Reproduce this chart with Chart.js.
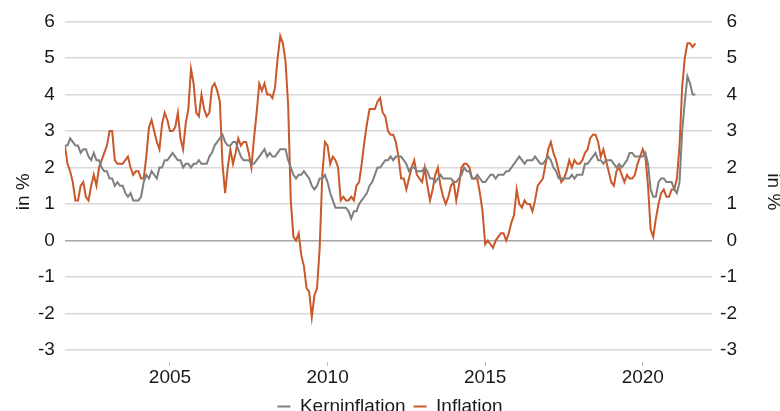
<!DOCTYPE html>
<html>
<head>
<meta charset="utf-8">
<script src="https://cdn.jsdelivr.net/npm/chart.js@4.4.0/dist/chart.umd.min.js"></script>
<style>
  html, body { margin: 0; padding: 0; background: #fff; }
  #wrap { width: 780px; height: 411px; }
</style>
</head>
<body>
<div id="wrap"><canvas id="inflationChart" width="780" height="411"></canvas></div>
<script>
// monthly series, first value = Sep 2001, last value = Sep 2021
const startYear = 2001;
const startMonth = 9;

const inflation = [
  2.6, 2.1, 1.9, 1.6,
  1.1, 1.1, 1.5, 1.6, 1.2, 1.1, 1.5, 1.8, 1.5, 2.0, 2.2, 2.4,
  2.6, 3.0, 3.0, 2.2, 2.1, 2.1, 2.1, 2.2, 2.3, 2.0, 1.8, 1.9,
  1.9, 1.7, 1.7, 2.3, 3.1, 3.3, 3.0, 2.7, 2.5, 3.2, 3.5, 3.3,
  3.0, 3.0, 3.1, 3.5, 2.8, 2.5, 3.2, 3.6, 4.7, 4.3, 3.5, 3.4,
  4.0, 3.6, 3.4, 3.5, 4.2, 4.3, 4.1, 3.8, 2.1, 1.3, 2.0, 2.5,
  2.1, 2.4, 2.8, 2.6, 2.7, 2.7, 2.4, 2.0, 2.8, 3.5, 4.3, 4.1,
  4.3, 4.0, 4.0, 3.9, 4.2, 5.0, 5.6, 5.4, 4.9, 3.7, 1.1, 0.1,
  0.0, 0.2, -0.4, -0.7, -1.3, -1.4, -2.1, -1.5, -1.3, -0.2, 1.8, 2.7,
  2.6, 2.1, 2.3, 2.2, 2.0, 1.1, 1.2, 1.1, 1.1, 1.2, 1.1, 1.5,
  1.6, 2.1, 2.7, 3.2, 3.6, 3.6, 3.6, 3.8, 3.9, 3.5, 3.4, 3.0,
  2.9, 2.9, 2.7, 2.3, 1.7, 1.7, 1.4, 1.7, 2.0, 2.2, 1.8, 1.7,
  1.6, 2.0, 1.5, 1.1, 1.4, 1.8, 2.0, 1.5, 1.2, 1.0, 1.2, 1.5,
  1.6, 1.1, 1.5, 2.0, 2.1, 2.1, 2.0, 1.7, 1.7, 1.7, 1.3, 0.8,
  -0.1, 0.0, -0.1, -0.2, 0.0, 0.1, 0.2, 0.2, 0.0, 0.2, 0.5, 0.7,
  1.4, 1.0, 0.9, 1.1, 1.0, 1.0, 0.8, 1.1, 1.5, 1.6, 1.7, 2.1,
  2.5, 2.7, 2.4, 2.2, 1.9, 1.6, 1.7, 1.9, 2.2, 2.0, 2.2, 2.1,
  2.1, 2.2, 2.4, 2.5, 2.8, 2.9, 2.9, 2.7, 2.3, 2.5, 2.2, 1.9,
  1.6, 1.5, 1.9, 2.0, 1.8, 1.6, 1.8, 1.7, 1.7, 1.8, 2.1, 2.3,
  2.5, 2.3, 1.5, 0.3, 0.1, 0.6, 1.0, 1.3, 1.4, 1.2, 1.2, 1.4,
  1.4, 1.7, 2.6, 4.2, 5.0, 5.4, 5.4, 5.3, 5.4
];

const coreInflation = [
  2.6, 2.6, 2.8, 2.7,
  2.6, 2.6, 2.4, 2.5, 2.5, 2.3, 2.2, 2.4, 2.2, 2.2, 2.0, 1.9,
  1.9, 1.7, 1.7, 1.5, 1.6, 1.5, 1.5, 1.3, 1.2, 1.3, 1.1, 1.1,
  1.1, 1.2, 1.6, 1.8, 1.7, 1.9, 1.8, 1.7, 2.0, 2.0, 2.2, 2.2,
  2.3, 2.4, 2.3, 2.2, 2.2, 2.0, 2.1, 2.1, 2.0, 2.1, 2.1, 2.2,
  2.1, 2.1, 2.1, 2.3, 2.4, 2.6, 2.7, 2.8, 2.9, 2.7, 2.6, 2.6,
  2.7, 2.7, 2.5, 2.3, 2.2, 2.2, 2.2, 2.1, 2.1, 2.2, 2.3, 2.4,
  2.5, 2.3, 2.4, 2.3, 2.3, 2.4, 2.5, 2.5, 2.5, 2.2, 2.0, 1.8,
  1.7, 1.8, 1.8, 1.9, 1.8, 1.7, 1.5, 1.4, 1.5, 1.7, 1.7, 1.8,
  1.6, 1.3, 1.1, 0.9, 0.9, 0.9, 0.9, 0.9, 0.8, 0.6, 0.8, 0.8,
  1.0, 1.1, 1.2, 1.3, 1.5, 1.6, 1.8, 2.0, 2.0, 2.1, 2.2, 2.2,
  2.3, 2.2, 2.3, 2.3, 2.3, 2.2, 2.1, 1.9, 2.0, 2.0, 1.9, 1.9,
  1.9, 2.0, 1.9, 1.7, 1.7, 1.6, 1.7, 1.8, 1.7, 1.7, 1.7, 1.7,
  1.6, 1.6, 1.7, 1.8, 2.0, 1.9, 1.9, 1.7, 1.7, 1.8, 1.7, 1.6,
  1.6, 1.7, 1.8, 1.8, 1.7, 1.8, 1.8, 1.8, 1.9, 1.9, 2.0, 2.1,
  2.2, 2.3, 2.2, 2.1, 2.2, 2.2, 2.2, 2.3, 2.2, 2.1, 2.1, 2.2,
  2.3, 2.2, 2.0, 1.9, 1.7, 1.7, 1.7, 1.7, 1.7, 1.8, 1.7, 1.8,
  1.8, 1.8, 2.1, 2.1, 2.2, 2.3, 2.4, 2.2, 2.2, 2.1, 2.2, 2.2,
  2.2, 2.1, 2.0, 2.1, 2.0, 2.1, 2.2, 2.4, 2.4, 2.3, 2.3, 2.3,
  2.3, 2.4, 2.1, 1.4, 1.2, 1.2, 1.6, 1.7, 1.7, 1.6, 1.6, 1.6,
  1.4, 1.3, 1.6, 3.0, 3.8, 4.5, 4.3, 4.0, 4.0
];

const yearTicks = [2005, 2010, 2015, 2020];
const valueTicks = [-3, -2, -1, 0, 1, 2, 3, 4, 5, 6];

// time in decimal years for each month
const months = inflation.map((v, i) => startYear + (startMonth - 1 + i) / 12);

const toPoints = arr => arr.map((v, i) => ({ x: months[i], y: v }));

const fontFamily = '"Liberation Sans", Arial, sans-serif';
const textColor = '#1a1a1a';
const font = { family: fontFamily, size: 19 };
const yMin = -3.33;
const yMax = 6;
const setValueTicks = axis => { axis.ticks = valueTicks.map(v => ({ value: v })); };

const ctx = document.getElementById('inflationChart');

new Chart(ctx, {
    type: 'line',
    data: {
        datasets: [
            {
                label: 'Kerninflation',
                data: toPoints(coreInflation),
                borderColor: '#7f7f7f',
                backgroundColor: '#7f7f7f',
                borderWidth: 2,
                pointRadius: 0,
                tension: 0
            },
            {
                label: 'Inflation',
                data: toPoints(inflation),
                borderColor: '#c9582a',
                backgroundColor: '#c9582a',
                borderWidth: 2,
                pointRadius: 0,
                tension: 0
            }
        ]
    },
    options: {
        responsive: false,
        animation: false,
        layout: { padding: { top: 19, left: 0, right: 0, bottom: -15 } },
        plugins: {
            legend: {
                position: 'bottom',
                labels: {
                    usePointStyle: true,
                    pointStyle: 'line',
                    pointStyleWidth: 13,
                    boxHeight: 19,
                    padding: 8,
                    color: textColor,
                    font: font
                }
            },
            tooltip: { enabled: false }
        },
        scales: {
            x: {
                type: 'linear',
                min: startYear + (startMonth - 1) / 12,
                max: 2022.2,
                afterBuildTicks: axis => { axis.ticks = yearTicks.map(v => ({ value: v })); },
                grid: { drawOnChartArea: false, drawTicks: true, tickLength: 4, color: '#bfbfbf' },
                border: { display: false },
                ticks: { padding: 0, color: textColor, font: font, maxRotation: 0, callback: v => String(v) }
            },
            y: {
                position: 'left',
                min: yMin,
                max: yMax,
                afterBuildTicks: setValueTicks,
                grid: {
                    drawTicks: false,
                    color: c => (c.tick && c.tick.value === 0) ? '#a6a6a6' : '#d9d9d9',
                    lineWidth: 1.5
                },
                border: { display: false },
                ticks: { padding: 10, color: textColor, font: font, callback: v => String(v) },
                title: { display: true, text: 'in %', color: textColor, font: font, padding: { top: 12.6, bottom: -7.4 } }
            },
            y2: {
                position: 'right',
                weight: 0,
                min: yMin,
                max: yMax,
                afterBuildTicks: setValueTicks,
                grid: { display: false, drawTicks: false },
                border: { display: false },
                ticks: { padding: 4, crossAlign: 'far', color: textColor, font: font, callback: v => String(v) }
            },
            yTitleRight: {
                position: 'right',
                weight: 1,
                min: yMin,
                max: yMax,
                grid: { display: false, drawTicks: false },
                border: { display: false },
                ticks: { display: false },
                title: { display: true, text: 'in %', color: textColor, font: font, padding: { top: -4.4, bottom: 24.6 } }
            }
        }
    }
});
</script>
</body>
</html>
